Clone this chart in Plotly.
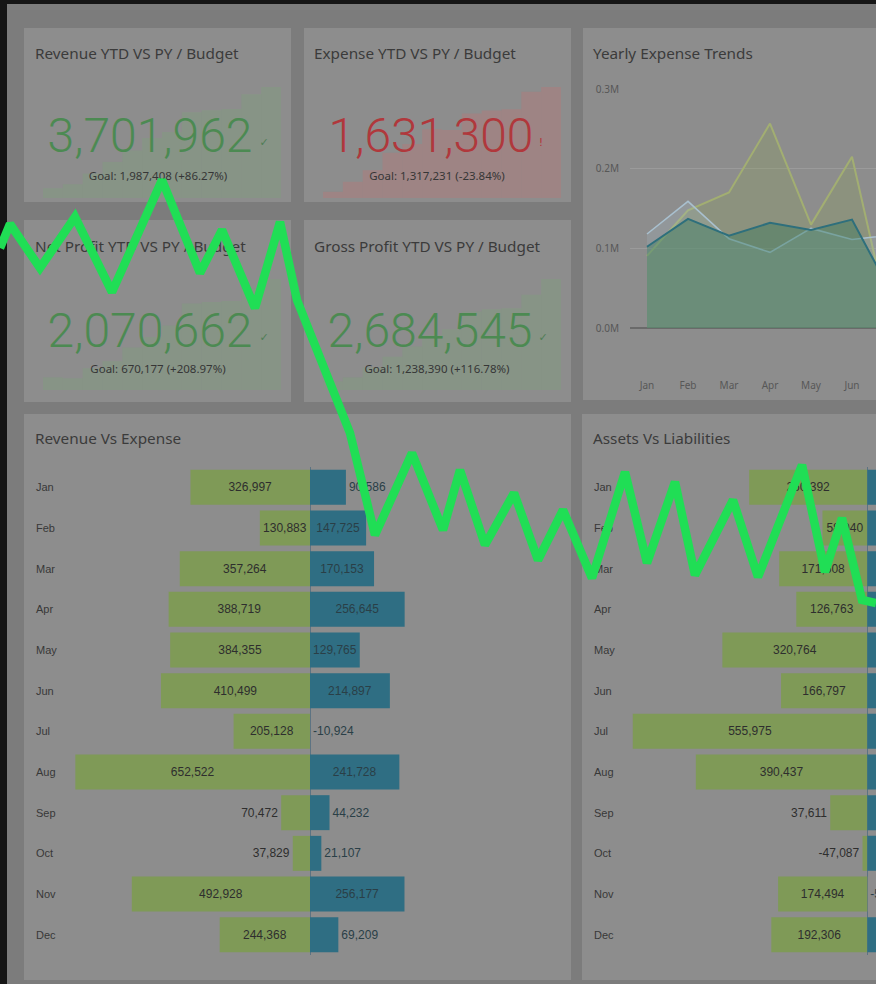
import plotly.graph_objects as go
from itertools import accumulate

W, H = 876, 984

# ---------------- data ----------------
months = ["Jan", "Feb", "Mar", "Apr", "May", "Jun", "Jul", "Aug", "Sep", "Oct", "Nov", "Dec"]
revenue = [326997, 130883, 357264, 388719, 384355, 410499, 205128, 652522, 70472, 37829, 492928, 244368]
expense = [90586, 147725, 170153, 256645, 129765, 214897, -10924, 241728, 44232, 21107, 256177, 69209]
assets = [250392, 58040, 171608, 126763, 320764, 166797, 555975, 390437, 37611, -47087, 174494, 192306]
liabilities = [118000, 96000, 141000, 112000, 158000, 127000, 205000, 176000, 64000, 48000, -59612, 93000]
gross_profit = [210000, 95000, 240000, 260000, 250000, 275000, 140000, 430000, 50000, 25000, 330000, 379545]

trend_months = ["Jan", "Feb", "Mar", "Apr", "May", "Jun", "Jul"]
trend_current = [90586, 147725, 170153, 256645, 129765, 214897, -10924]
trend_prev = [102000, 137000, 116000, 132000, 123000, 136000, 40000]
trend_prev2 = [118000, 159000, 112000, 95000, 125000, 111000, 117000]
trend_ticks = [0, 100000, 200000, 300000]
trend_ticktext = ["0.0M", "0.1M", "0.2M", "0.3M"]

kpi_titles = ["Revenue YTD VS PY / Budget", "Expense YTD VS PY / Budget",
              "Net Profit YTD VS PY / Budget", "Gross Profit YTD VS PY / Budget"]
kpi_values = ["3,701,962", "1,631,300", "2,070,662", "2,684,545"]
kpi_goals = ["Goal: 1,987,408 (+86.27%)", "Goal: 1,317,231 (-23.84%)",
             "Goal: 670,177 (+208.97%)", "Goal: 1,238,390 (+116.78%)"]
kpi_marks = ["\u2713", "!", "\u2713", "\u2713"]

net_profit = [r - e for r, e in zip(revenue, expense)]
spark_series = [list(accumulate(revenue)), list(accumulate(expense)),
                list(accumulate(net_profit)), list(accumulate(gross_profit))]

# overlay zig-zag line (pixel space)
zig_x = [0, 10, 40, 75, 112, 162, 200, 222, 255, 280, 297, 350, 375, 412, 443, 460, 485, 514, 538,
         563, 592, 625, 647, 675, 695, 733, 758, 802, 825, 842, 862, 876]
zig_y = [248, 224, 268, 217, 292, 180, 273, 230, 308, 222, 300, 433, 535, 453, 530, 470, 545, 493, 560,
         510, 578, 472, 563, 482, 575, 500, 577, 465, 572, 518, 600, 603]

# ---------------- styling ----------------
CARD = "#8d8d8d"
GAP = "#7c7c7c"
GREEN_BAR = "#7f9a57"
TEAL_BAR = "#2f6e83"
TITLE_FONT = "Segoe UI, Noto Sans, sans-serif"
LABEL_FONT = "Liberation Sans, Arial, sans-serif"


def fx(x):
    return x / W


def fy(y):
    return 1 - y / H


fig = go.Figure()
shapes = [dict(type="rect", xref="paper", yref="paper", x0=fx(7), x1=1, y0=0, y1=fy(4),
               fillcolor=GAP, line_width=0, layer="below")]
cards = [(24, 28, 291, 202), (304, 28, 571, 202), (583, 28, 900, 400), (24, 220, 291, 402),
         (304, 220, 571, 402), (24, 414, 571, 980), (582, 414, 900, 980)]
for (x0, y0, x1, y1) in cards:
    shapes.append(dict(type="rect", xref="paper", yref="paper", x0=fx(x0), x1=min(1, fx(x1)),
                       y0=fy(y1), y1=fy(y0), fillcolor=CARD, line_width=0, layer="below"))

layout_axes = {}

# ---- sparklines (axes 1-4)
spark_boxes = [(43, 87, 281, 198), (323, 87, 561, 198), (43, 279, 281, 390), (323, 279, 561, 390)]
spark_colors = ["rgba(120,170,115,0.26)", "rgba(195,115,115,0.32)", "rgba(120,170,115,0.26)",
                "rgba(120,170,115,0.26)"]
for i, (box, series, col) in enumerate(zip(spark_boxes, spark_series, spark_colors), start=1):
    x0, y0, x1, y1 = box
    fig.add_trace(go.Bar(x=list(range(12)), y=series, width=1, marker_color=col,
                         marker_line_width=0, xaxis=f"x{i}", yaxis=f"y{i}", hoverinfo="skip",
                         showlegend=False))
    sx = "xaxis" if i == 1 else f"xaxis{i}"
    sy = "yaxis" if i == 1 else f"yaxis{i}"
    layout_axes[sx] = dict(domain=[fx(x0), fx(x1)], range=[-0.5, 11.5], visible=False,
                           anchor=f"y{i}" if i > 1 else "y", fixedrange=True)
    layout_axes[sy] = dict(domain=[fy(y1), fy(y0)], range=[0, max(series)], visible=False,
                           anchor=f"x{i}" if i > 1 else "x", fixedrange=True)

# ---- yearly expense trends (axes 5)
trend_specs = [
    (trend_current, "#a2ae72", "rgba(140,160,95,0.32)", 2),
    (trend_prev2, "#a9c0cf", "rgba(170,200,215,0.18)", 1.5),
    (trend_prev, "#2e6f7c", "rgba(50,120,90,0.40)", 2),
]
for vals, lc, fc, lw in trend_specs:
    fig.add_trace(go.Scatter(x=trend_months, y=vals, mode="lines", fill="tozeroy",
                             line=dict(color=lc, width=lw), fillcolor=fc, xaxis="x5", yaxis="y5",
                             hoverinfo="skip", showlegend=False))
layout_axes["xaxis5"] = dict(domain=[fx(630), 1], anchor="y5", type="category",
                             range=[-(647 - 630) / 41, (876 - 647) / 41], showgrid=False,
                             zeroline=False, showline=False, ticks="",
                             tickfont=dict(family=TITLE_FONT, size=10, color="#575757"),
                             ticklabelstandoff=50)
layout_axes["yaxis5"] = dict(domain=[fy(328), fy(89)], anchor="x5", range=[0, 300000],
                             tickvals=trend_ticks, ticktext=trend_ticktext, showgrid=True,
                             gridcolor="#9b9b9b", gridwidth=1, zeroline=True,
                             zerolinecolor="#6a6a6a", zerolinewidth=2, showline=False,
                             tickfont=dict(family=TITLE_FONT, size=10, color="#575757"),
                             ticklabelstandoff=10)


# ---- diverging bar charts
def diverging(ax, left_vals, right_vals, left_pos, right_pos, left_show, right_show,
              x_left_px, zero_px, x_right_px, px_per_unit, y_top, y_bot):
    base = min(left_vals + right_vals)
    ltxt = [f"{v:,}" if s else "" for v, s in zip(left_vals, left_show)]
    rtxt = [f"{v:,}" if s else "" for v, s in zip(right_vals, right_show)]
    fig.add_trace(go.Bar(y=months, x=[-(v - base) for v in left_vals], orientation="h", width=0.86,
                         marker_color=GREEN_BAR, marker_line_width=0, text=ltxt,
                         textposition=left_pos, insidetextanchor="middle", constraintext="none",
                         textfont=dict(family=LABEL_FONT, size=12, color="#2e2e2e"),
                         cliponaxis=False, xaxis=f"x{ax}", yaxis=f"y{ax}", hoverinfo="skip",
                         showlegend=False))
    fig.add_trace(go.Bar(y=months, x=[v - base for v in right_vals], orientation="h", width=0.86,
                         marker_color=TEAL_BAR, marker_line_width=0, text=rtxt,
                         textposition=right_pos, insidetextanchor="middle", constraintext="none",
                         textfont=dict(family=LABEL_FONT, size=12, color="#2a3f47"),
                         cliponaxis=False, xaxis=f"x{ax}", yaxis=f"y{ax}", hoverinfo="skip",
                         showlegend=False))
    layout_axes[f"xaxis{ax}"] = dict(domain=[fx(x_left_px), fx(x_right_px)], anchor=f"y{ax}",
                                     range=[-(zero_px - x_left_px) / px_per_unit,
                                            (x_right_px - zero_px) / px_per_unit],
                                     showticklabels=False, showgrid=False, zeroline=True,
                                     zerolinecolor="#5d7382", zerolinewidth=1, showline=False,
                                     ticks="", fixedrange=True)
    layout_axes[f"yaxis{ax}"] = dict(domain=[fy(y_bot), fy(y_top)], anchor=f"x{ax}",
                                     type="category", categoryarray=months, autorange="reversed",
                                     ticklabelposition="inside", ticks="", showgrid=False,
                                     zeroline=False, showline=False,
                                     tickfont=dict(family=LABEL_FONT, size=11, color="#383838"),
                                     fixedrange=True)


IN, OUT = "inside", "outside"
rev_pos = [IN, IN, IN, IN, IN, IN, IN, IN, OUT, OUT, IN, IN]
exp_pos = [OUT, IN, IN, IN, IN, IN, OUT, IN, OUT, OUT, IN, OUT]
diverging(6, revenue, expense, rev_pos, exp_pos, [True] * 12, [True] * 12,
          33, 310, 560, 353.7e-6, 467, 955)

ast_pos = [IN, IN, IN, IN, IN, IN, IN, IN, OUT, OUT, IN, IN]
lia_pos = [IN, IN, IN, IN, IN, IN, IN, IN, IN, IN, OUT, IN]
lia_show = [False] * 10 + [True, False]
diverging(7, assets, liabilities, ast_pos, lia_pos, [True] * 12, lia_show,
          591, 867.3, 876, 381e-6, 467, 955)

# ---- overlay axis (pixel space) for texts and the zig-zag line
layout_axes["xaxis8"] = dict(domain=[0, 1], range=[0, W], visible=False, anchor="y8", fixedrange=True)
layout_axes["yaxis8"] = dict(domain=[0, 1], range=[H, 0], visible=False, anchor="x8", fixedrange=True)


def text_trace(xs, ys, texts, size, color, family, pos, weight=None):
    tf = dict(size=size, color=color, family=family)
    if weight:
        tf["weight"] = weight
    fig.add_trace(go.Scatter(x=xs, y=ys, text=texts, mode="text", textposition=pos,
                             textfont=tf, xaxis="x8", yaxis="y8", hoverinfo="skip",
                             showlegend=False, cliponaxis=False))


# titles
title_texts = kpi_titles + ["Yearly Expense Trends", "Revenue Vs Expense", "Assets Vs Liabilities"]
title_x = [35, 314, 35, 314, 593, 35, 593]
title_y = [55, 55, 248, 248, 55, 440, 440]
text_trace(title_x, title_y, title_texts, 15.3, "#3b3b3b", TITLE_FONT, "middle right")

# KPI big numbers
num_x = [150, 431, 150, 430]
num_y = [140, 140, 335, 335]
num_col = ["#4c8a52", "#b0383c", "#4c8a52", "#4c8a52"]
for xv, yv, t, c in zip(num_x, num_y, kpi_values, num_col):
    text_trace([xv], [yv], [t], 48, c, "Roboto, sans-serif", "middle center", weight=300)
mark_x = [264, 541, 264, 543]
mark_y = [143, 143, 338, 338]
mark_col = ["#4f7d55", "#b0383c", "#4f7d55", "#4f7d55"]
for xv, yv, t, c in zip(mark_x, mark_y, kpi_marks, mark_col):
    text_trace([xv], [yv], [t], 11, c, "DejaVu Sans, sans-serif", "middle center")
goal_x = [158, 437, 158, 437]
goal_y = [177, 177, 370, 370]
text_trace(goal_x, goal_y, kpi_goals, 11.5, "#363636", TITLE_FONT, "middle center")

# zig-zag line on top
fig.add_trace(go.Scatter(x=zig_x, y=zig_y, mode="lines", line=dict(color="#20de55", width=8.5),
                         xaxis="x8", yaxis="y8", hoverinfo="skip", showlegend=False,
                         cliponaxis=False))

fig.update_layout(
    width=W, height=H, margin=dict(l=0, r=0, t=0, b=0, pad=0), autosize=False,
    paper_bgcolor="#151515", plot_bgcolor="rgba(0,0,0,0)",
    shapes=shapes, barmode="overlay", showlegend=False,
    uniformtext=dict(minsize=12, mode="show"),
    **layout_axes,
)
fig.update_xaxes(automargin=False)
fig.update_yaxes(automargin=False)

fig.write_html("out.html", config={"displayModeBar": False})
